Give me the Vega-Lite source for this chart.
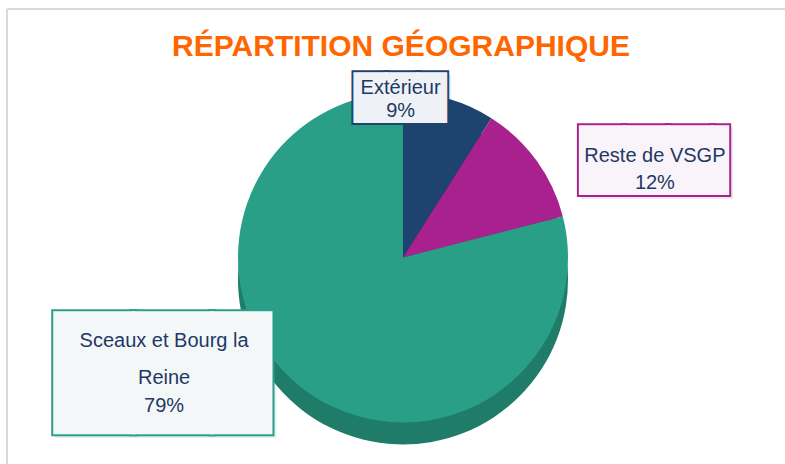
{
  "$schema": "https://vega.github.io/schema/vega-lite/v6.json",
  "width": 778,
  "height": 455,
  "autosize": {"type": "none"},
  "padding": {"left": 7, "top": 9, "right": 0, "bottom": 0},
  "background": "#ffffff",
  "config": {"view": {"stroke": null}},
  "title": {
    "text": "RÉPARTITION GÉOGRAPHIQUE",
    "font": "Liberation Sans",
    "fontSize": 30,
    "fontWeight": "bold",
    "color": "#FF6600",
    "anchor": "middle",
    "frame": "group",
    "baseline": "alphabetic",
    "offset": -78,
    "dx": 5
  },
  "data": {
    "values": [
      {"cat": "Extérieur", "v": 9},
      {"cat": "Reste de VSGP", "v": 12},
      {"cat": "Sceaux et Bourg la Reine", "v": 79}
    ]
  },
  "layer": [
    {
      "data": {"values": [{}]},
      "mark": {"type": "rule", "color": "#d9d9d9", "strokeWidth": 2},
      "encoding": {"x": {"value": 0}}
    },
    {
      "data": {"values": [{}]},
      "mark": {"type": "rule", "color": "#d9d9d9", "strokeWidth": 2},
      "encoding": {"y": {"value": 0}}
    },
    {
      "mark": {"type": "text", "font": "DejaVu Sans", "fontSize": 41.4, "align": "left", "baseline": "middle", "fill": "#E9EBEE", "stroke": "#E9EBEE", "strokeWidth": 3, "dx": -83, "dy": 20.5},
      "encoding": {
        "theta": {"field": "v", "type": "quantitative", "stack": true},
        "radius": {"value": 160},
        "text": {"value": "██▉"},
        "opacity": {"condition": {"test": "datum.cat === 'Extérieur'", "value": 1}, "value": 0}
      }
    },
    {
      "mark": {"type": "text", "font": "DejaVu Sans", "fontSize": 57.4, "align": "left", "baseline": "middle", "fill": "#ECE6EC", "stroke": "#ECE6EC", "strokeWidth": 3, "dx": 17, "dy": 52.5},
      "encoding": {
        "theta": {"field": "v", "type": "quantitative", "stack": true},
        "radius": {"value": 210},
        "text": {"value": "███▍"},
        "opacity": {"condition": {"test": "datum.cat === 'Reste de VSGP'", "value": 1}, "value": 0}
      }
    },
    {
      "mark": {"type": "text", "font": "DejaVu Sans", "fontSize": 102.2, "align": "left", "baseline": "middle", "fill": "#E9ECEC", "stroke": "#E9ECEC", "strokeWidth": 3, "dx": -246, "dy": 25},
      "encoding": {
        "theta": {"field": "v", "type": "quantitative", "stack": true},
        "radius": {"value": 150},
        "text": {"value": "██▊"},
        "opacity": {"condition": {"test": "datum.cat === 'Sceaux et Bourg la Reine'", "value": 1}, "value": 0}
      }
    },
    {
      "mark": {"type": "arc", "radius": 165, "xOffset": 7, "yOffset": 43},
      "encoding": {
        "theta": {"field": "v", "type": "quantitative", "stack": true},
        "color": {"field": "cat", "type": "nominal", "legend": null,
          "scale": {"domain": ["Extérieur", "Reste de VSGP", "Sceaux et Bourg la Reine"], "range": ["#163257", "#82166C", "#1F7C68"]}}
      }
    },
    {
      "mark": {"type": "arc", "radius": 165, "xOffset": 7, "yOffset": 21},
      "encoding": {
        "theta": {"field": "v", "type": "quantitative", "stack": true},
        "color": {"field": "cat", "type": "nominal", "legend": null,
          "scale": {"domain": ["Extérieur", "Reste de VSGP", "Sceaux et Bourg la Reine"], "range": ["#1F436F", "#A9218E", "#2A9F87"]}}
      }
    },
    {
      "mark": {"type": "text", "font": "DejaVu Sans", "fontSize": 41.4, "align": "left", "baseline": "middle", "fill": "#1F436F", "stroke": "#1F436F", "strokeWidth": 5.5, "dx": -86, "dy": 17.5},
      "encoding": {
        "theta": {"field": "v", "type": "quantitative", "stack": true},
        "radius": {"value": 160},
        "text": {"value": "██▉"},
        "opacity": {"condition": {"test": "datum.cat === 'Extérieur'", "value": 1}, "value": 0}
      }
    },
    {
      "mark": {"type": "text", "font": "DejaVu Sans", "fontSize": 41.4, "align": "left", "baseline": "middle", "fill": "#EEF2F7", "stroke": "#EEF2F7", "strokeWidth": 1.5, "dx": -86, "dy": 17.5},
      "encoding": {
        "theta": {"field": "v", "type": "quantitative", "stack": true},
        "radius": {"value": 160},
        "text": {"value": "██▉"},
        "opacity": {"condition": {"test": "datum.cat === 'Extérieur'", "value": 1}, "value": 0}
      }
    },
    {
      "mark": {"type": "text", "font": "Liberation Sans", "fontSize": 20, "align": "center", "baseline": "alphabetic", "lineHeight": 23, "fill": "#1F3864", "dx": -40, "dy": 11},
      "encoding": {
        "theta": {"field": "v", "type": "quantitative", "stack": true},
        "radius": {"value": 160},
        "text": {"value": ["Extérieur", "9%"]},
        "opacity": {"condition": {"test": "datum.cat === 'Extérieur'", "value": 1}, "value": 0}
      }
    },
    {
      "mark": {"type": "text", "font": "DejaVu Sans", "fontSize": 57.4, "align": "left", "baseline": "middle", "fill": "#A9218E", "stroke": "#A9218E", "strokeWidth": 5.5, "dx": 14, "dy": 49.5},
      "encoding": {
        "theta": {"field": "v", "type": "quantitative", "stack": true},
        "radius": {"value": 210},
        "text": {"value": "███▍"},
        "opacity": {"condition": {"test": "datum.cat === 'Reste de VSGP'", "value": 1}, "value": 0}
      }
    },
    {
      "mark": {"type": "text", "font": "DejaVu Sans", "fontSize": 57.4, "align": "left", "baseline": "middle", "fill": "#F9F4F9", "stroke": "#F9F4F9", "strokeWidth": 1.5, "dx": 14, "dy": 49.5},
      "encoding": {
        "theta": {"field": "v", "type": "quantitative", "stack": true},
        "radius": {"value": 210},
        "text": {"value": "███▍"},
        "opacity": {"condition": {"test": "datum.cat === 'Reste de VSGP'", "value": 1}, "value": 0}
      }
    },
    {
      "mark": {"type": "text", "font": "Liberation Sans", "fontSize": 20, "align": "center", "baseline": "alphabetic", "lineHeight": 27, "fill": "#1F3864", "dx": 89, "dy": 48.5},
      "encoding": {
        "theta": {"field": "v", "type": "quantitative", "stack": true},
        "radius": {"value": 210},
        "text": {"value": ["Reste de VSGP", "12%"]},
        "opacity": {"condition": {"test": "datum.cat === 'Reste de VSGP'", "value": 1}, "value": 0}
      }
    },
    {
      "mark": {"type": "text", "font": "DejaVu Sans", "fontSize": 102.2, "align": "left", "baseline": "middle", "fill": "#2A9F87", "stroke": "#2A9F87", "strokeWidth": 5.5, "dx": -249, "dy": 22},
      "encoding": {
        "theta": {"field": "v", "type": "quantitative", "stack": true},
        "radius": {"value": 150},
        "text": {"value": "██▊"},
        "opacity": {"condition": {"test": "datum.cat === 'Sceaux et Bourg la Reine'", "value": 1}, "value": 0}
      }
    },
    {
      "mark": {"type": "text", "font": "DejaVu Sans", "fontSize": 102.2, "align": "left", "baseline": "middle", "fill": "#F3F7F8", "stroke": "#F3F7F8", "strokeWidth": 1.5, "dx": -249, "dy": 22},
      "encoding": {
        "theta": {"field": "v", "type": "quantitative", "stack": true},
        "radius": {"value": 150},
        "text": {"value": "██▊"},
        "opacity": {"condition": {"test": "datum.cat === 'Sceaux et Bourg la Reine'", "value": 1}, "value": 0}
      }
    },
    {
      "mark": {"type": "text", "font": "Liberation Sans", "fontSize": 20, "align": "center", "baseline": "alphabetic", "fill": "#1F3864", "dx": -140, "dy": -8},
      "encoding": {
        "theta": {"field": "v", "type": "quantitative", "stack": true},
        "radius": {"value": 150},
        "text": {"value": "Sceaux et Bourg la"},
        "opacity": {"condition": {"test": "datum.cat === 'Sceaux et Bourg la Reine'", "value": 1}, "value": 0}
      }
    },
    {
      "mark": {"type": "text", "font": "Liberation Sans", "fontSize": 20, "align": "center", "baseline": "alphabetic", "lineHeight": 28, "fill": "#1F3864", "dx": -140, "dy": 29},
      "encoding": {
        "theta": {"field": "v", "type": "quantitative", "stack": true},
        "radius": {"value": 150},
        "text": {"value": ["Reine", "79%"]},
        "opacity": {"condition": {"test": "datum.cat === 'Sceaux et Bourg la Reine'", "value": 1}, "value": 0}
      }
    }
  ],
  "resolve": {"scale": {"color": "independent"}}
}
